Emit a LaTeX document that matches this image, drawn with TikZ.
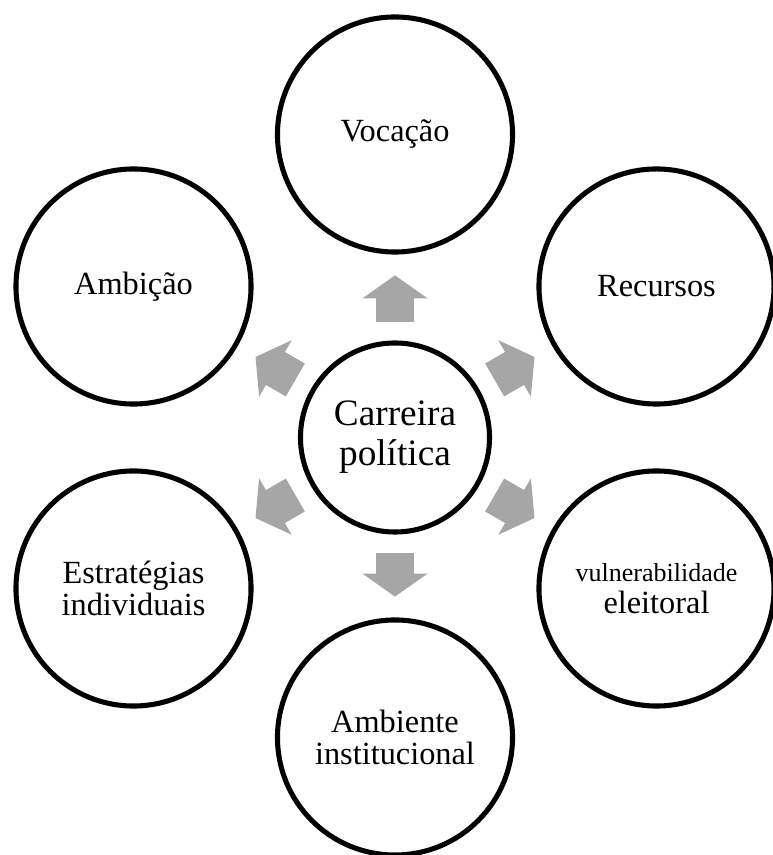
\documentclass[tikz,border=0pt]{standalone}
\usepackage{fontspec}
\setmainfont{Liberation Serif}
\usepackage{xcolor}
\usepackage{tikz}
\usetikzlibrary{arrows.meta}
\definecolor{ringline}{HTML}{000000}
\definecolor{arrowgray}{HTML}{A6A6A6}
\tikzset{
  hubnode/.style={
    circle,
    draw=ringline,
    line width=3.6pt,
    fill=white,
    inner sep=0pt,
    minimum size=4.725cm,
    align=center,
    font=\fontsize{26.5}{28.5}\selectfont
  },
  outernode/.style={
    circle,
    draw=ringline,
    line width=3.6pt,
    fill=white,
    inner sep=0pt,
    minimum size=5.875cm,
    align=center,
    font=\fontsize{23}{22.5}\selectfont
  },
  blockarrow/.style={
    draw=arrowgray,
    line width=0.95cm,
    line cap=butt,
    shorten <=0.45cm,
    shorten >=0.52cm,
    -{Triangle[length=0.575cm, width=1.6cm, fill=arrowgray]}
  }
}

\begin{document}
\begin{tikzpicture}[x=0.025cm,y=0.025cm]
\useasboundingbox (0,0) rectangle (772,855);

\node[hubnode] (hub) at (395,417.5) {Carreira\\política};

\node[outernode] (vocacao) at (395,720.5) {Vocação};
\node[outernode] (recursos) at (656.5,568.5) {Recursos};
\node[outernode] (vulner) at (656.5,266.5) {{\fontsize{18.5}{22.5}\selectfont vulnerabilidade}\\eleitoral};
\node[outernode] (ambiente) at (395,117.5) {Ambiente\\institucional};
\node[outernode] (estrateg) at (133.5,266.5) {Estratégias\\individuais};
\node[outernode] (ambicao) at (133.5,568.5) {Ambição};

\draw[blockarrow] (hub) -- (vocacao);
\draw[blockarrow] (hub) -- (recursos);
\draw[blockarrow] (hub) -- (vulner);
\draw[blockarrow] (hub) -- (ambiente);
\draw[blockarrow] (hub) -- (estrateg);
\draw[blockarrow] (hub) -- (ambicao);

\end{tikzpicture}
\end{document}
